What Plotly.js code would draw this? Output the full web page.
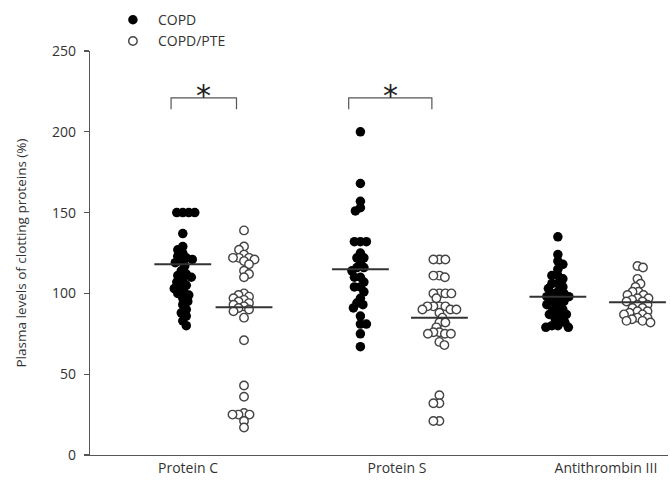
<!DOCTYPE html>
<html>
<head>
<meta charset="utf-8">
<script src="https://cdn.plot.ly/plotly-3.0.1.min.js"></script>
<style>html,body{margin:0;padding:0;background:#fff;}#chart{width:670px;height:485px;}</style>
</head>
<body>
<div id="chart"></div>
<script>
// ---- data ----
const categories = ['Protein C', 'Protein S', 'Antithrombin III'];
const seriesNames = ['COPD', 'COPD/PTE'];

const copdProteinC = [150,150,150,150,137,129,127,125,123,122,121,120,119,117,114,112,111,110,108,107,105,104,103,101,100,99,97,95,93,90,88,86,83,80];
const pteProteinC  = [139,129,127,124,122,122,122,121,120,118,114,112,110,100,99,98,97,96,95,94,93,92,91,90,89,85,71,43,36,26,25,25,25,21,17];

const copdProteinS = [200,168,157,153,151,132,132,132,125,122,122,119,116,116,114,110,110,107,104,104,101,97,94,93,91,86,81,81,75,67];
const pteProteinS  = [121,121,121,111,111,110,100,100,100,100,97,92,92,92,92,90,90,90,88,85,82,82,79,76,76,75,75,75,70,68,37,32,32,21,21];

const copdAntithrombin = [135,124,120,118,115,111,111,109,106,106,104,103,101,100,100,98,98,96,95,95,93,92,90,90,88,87,87,85,84,82,80,80,79,79];
const pteAntithrombin  = [117,116,109,106,104,101,101,99,99,97,97,96,95,95,93,93,91,91,89,89,88,87,87,85,85,84,83,83,82];

const meansCOPD = [118, 115, 98];
const meansPTE  = [91.5, 85, 94.5];

const yTicks = [0, 50, 100, 150, 200, 250];
const significant = [true, true, false];

// ---- layout constants ----
const W = 670, H = 485;
const M = {l: 90, r: 2, t: 51, b: 30};
const XR = [0.531, 3.297], YR = [0, 250];
const copdX = [0.975, 1.825, 2.770];
const pteX  = [1.268, 2.203, 3.151];
const halfLine = 0.136;
const pxX = (W - M.l - M.r) / (XR[1] - XR[0]);
const pxY = (H - M.t - M.b) / (YR[1] - YR[0]);

// deterministic beeswarm offsets computed from values
function swarm(vals, center, dmin) {
  const pts = [], xs = [];
  vals.forEach((v, i) => {
    const py = v * pxY;
    const sign = i % 2 === 0 ? 1 : -1;
    for (let k = 0; k < 600; k++) {
      const off = (k % 2 === 0 ? 1 : -1) * sign * Math.ceil(k / 2) * 0.5;
      if (pts.every(p => (p[0] - off) ** 2 + (p[1] - py) ** 2 >= dmin * dmin)) {
        pts.push([off, py]); xs.push(center + off / pxX); break;
      }
    }
  });
  return xs;
}

const copdSets = [copdProteinC, copdProteinS, copdAntithrombin];
const pteSets = [pteProteinC, pteProteinS, pteAntithrombin];

const traces = [];
const cx = [], cy = [], px = [], py = [];
copdSets.forEach((vals, g) => { swarm(vals, copdX[g], 5.8).forEach((x, i) => { cx.push(x); cy.push(vals[i]); }); });
pteSets.forEach((vals, g) => { swarm(vals, pteX[g], 5.6).forEach((x, i) => { px.push(x); py.push(vals[i]); }); });

traces.push({
  type: 'scatter', mode: 'markers', name: seriesNames[0], x: cx, y: cy, cliponaxis: false,
  marker: {color: '#000', size: 9.5, line: {width: 0}}
});
traces.push({
  type: 'scatter', mode: 'markers', name: seriesNames[1], x: px, y: py, cliponaxis: false,
  marker: {color: '#fff', size: 8.5, line: {color: '#444', width: 1.4}}
});

// mean lines
const mx = [], my = [];
categories.forEach((c, g) => {
  mx.push(copdX[g] - halfLine, copdX[g] + halfLine, null, pteX[g] - halfLine, pteX[g] + halfLine, null);
  my.push(meansCOPD[g], meansCOPD[g], null, meansPTE[g], meansPTE[g], null);
});
traces.push({type: 'scatter', mode: 'lines', x: mx, y: my, showlegend: false, hoverinfo: 'skip',
  line: {color: '#333', width: 2}});

// significance brackets
const shapes = [], annotations = [];
significant.forEach((s, g) => {
  if (!s) return;
  const x0 = copdX[g] - 0.056, x1 = pteX[g] - 0.036, yTop = 221, yBot = 214;
  shapes.push({type: 'path', xref: 'x', yref: 'y',
    path: `M ${x0},${yBot} L ${x0},${yTop} L ${x1},${yTop} L ${x1},${yBot}`,
    line: {color: '#555', width: 1.2}});
  annotations.push({xref: 'x', yref: 'y', x: (x0 + x1) / 2, y: 222.5, text: '*', showarrow: false,
    xanchor: 'center', yanchor: 'middle', font: {size: 30, color: '#222', family: 'DejaVu Sans'}});
});

const font = 'Open Sans, Lato, sans-serif';
const layout = {
  width: W, height: H, margin: M,
  paper_bgcolor: '#fff', plot_bgcolor: '#fff',
  font: {family: font, size: 14, color: '#333'},
  showlegend: true,
  legend: {x: 0.031, y: 1.116, xanchor: 'left', yanchor: 'top', bgcolor: 'rgba(0,0,0,0)',
    itemwidth: 40, font: {size: 14, color: '#333'}, tracegroupgap: 0},
  xaxis: {range: XR, showgrid: false, zeroline: false, showline: true, linecolor: '#555', linewidth: 1.3,
    ticks: '', tickvals: [1, 2, 3], ticktext: categories, tickfont: {size: 14, color: '#333'}, fixedrange: true},
  yaxis: {range: YR, showgrid: false, zeroline: false, showline: true, linecolor: '#555', linewidth: 1.3,
    ticks: 'outside', ticklen: 5, tickcolor: '#555', tickwidth: 1.2, tickvals: yTicks,
    tickfont: {size: 14, color: '#333'}, ticklabelstandoff: 5,
    title: {text: 'Plasma levels of clotting proteins (%)', font: {size: 13.5, color: '#333'}, standoff: 22}},
  shapes: shapes, annotations: annotations
};

Plotly.newPlot('chart', traces, layout, {displayModeBar: false, staticPlot: true});
</script>
</body>
</html>
